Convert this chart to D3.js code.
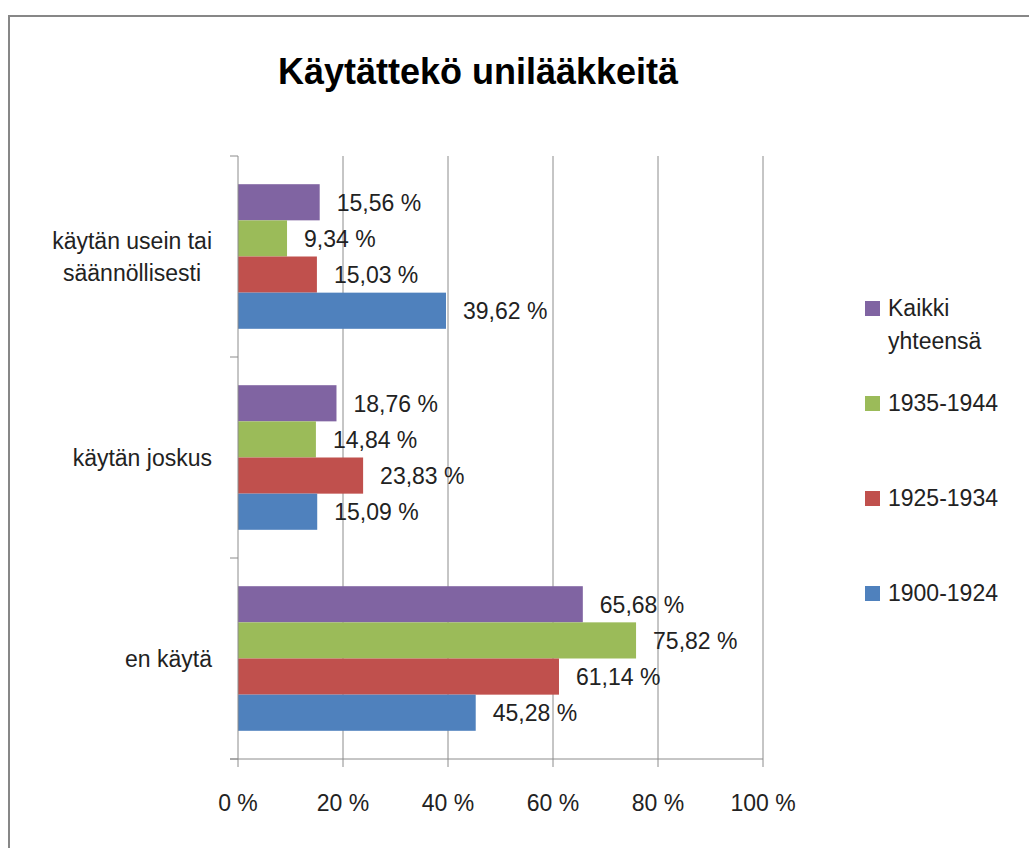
<!DOCTYPE html>
<html>
<head>
<meta charset="utf-8">
<script src="https://cdn.jsdelivr.net/npm/d3@7"></script>
<style>
  body { margin: 0; background: #fff; }
  svg text { font-family: "Liberation Sans", Arial, sans-serif; fill: #222; }
</style>
</head>
<body>
<svg id="chart" width="1029" height="848"></svg>
<script>
const categories = [
    ['käytän usein tai', 'säännöllisesti'],
    ['käytän joskus'],
    ['en käytä']
];
const seriesNames = ['Kaikki yhteensä', '1935-1944', '1925-1934', '1900-1924'];
const legendLines = [['Kaikki', 'yhteensä'], ['1935-1944'], ['1925-1934'], ['1900-1924']];
const kaikki = [15.56, 18.76, 65.68];
const s1935 = [9.34, 14.84, 75.82];
const s1925 = [15.03, 23.83, 61.14];
const s1900 = [39.62, 15.09, 45.28];
const xTicks = [0, 20, 40, 60, 80, 100];

const colors = ['#8064A2', '#9BBB59', '#C0504D', '#4F81BD'];
const series = [kaikki, s1935, s1925, s1900];

const svg = d3.select('#chart');
const fmt = v => v.toFixed(2).replace('.', ',') + ' %';

// outer frame
svg.append('rect')
    .attr('x', 9).attr('y', 16)
    .attr('width', 1100).attr('height', 1000)
    .attr('fill', 'none')
    .attr('stroke', '#878787')
    .attr('stroke-width', 2);

svg.append('text')
    .attr('x', 478).attr('y', 84)
    .attr('text-anchor', 'middle')
    .style('font-size', '36px')
    .style('font-weight', 'bold')
    .style('fill', '#000')
    .text('Käytättekö unilääkkeitä');

const plotL = 238, plotR = 763, plotT = 156, plotB = 759;

const x = d3.scaleLinear().domain([0, 100]).range([plotL, plotR]);
const y = d3.scaleBand().domain(d3.range(categories.length)).range([plotT, plotB]);
const yInner = d3.scaleBand()
    .domain(d3.range(series.length))
    .range([0, y.bandwidth()])
    .paddingOuter(0.78);

// gridlines
svg.append('g')
    .selectAll('line')
    .data(xTicks.slice(1))
    .join('line')
    .attr('x1', d => x(d)).attr('x2', d => x(d))
    .attr('y1', plotT).attr('y2', plotB + 8)
    .attr('stroke', '#8c8c8c')
    .attr('stroke-width', 1);

// bars
series.forEach((vals, si) => {
    svg.append('g')
        .selectAll('rect')
        .data(vals)
        .join('rect')
        .attr('x', plotL)
        .attr('y', (d, i) => y(i) + yInner(si))
        .attr('width', d => x(d) - plotL)
        .attr('height', yInner.bandwidth())
        .attr('fill', colors[si]);

    svg.append('g')
        .selectAll('text')
        .data(vals)
        .join('text')
        .attr('x', d => x(d) + 17)
        .attr('y', (d, i) => y(i) + yInner(si) + yInner.bandwidth() / 2)
        .attr('dy', '0.36em')
        .style('font-size', '23px')
        .text(d => fmt(d));
});

// axes lines and ticks
const axisColor = '#8c8c8c';
svg.append('line')
    .attr('x1', plotL).attr('x2', plotL)
    .attr('y1', plotT).attr('y2', plotB + 8)
    .attr('stroke', axisColor);
svg.append('line')
    .attr('x1', plotL - 8).attr('x2', plotR)
    .attr('y1', plotB).attr('y2', plotB)
    .attr('stroke', axisColor);
svg.append('g')
    .selectAll('line')
    .data(d3.range(categories.length + 1))
    .join('line')
    .attr('x1', plotL - 8).attr('x2', plotL)
    .attr('y1', d => plotT + d * y.step()).attr('y2', d => plotT + d * y.step())
    .attr('stroke', axisColor);

svg.append('g')
    .selectAll('text')
    .data(xTicks)
    .join('text')
    .attr('x', d => x(d))
    .attr('y', 811)
    .attr('text-anchor', 'middle')
    .style('font-size', '23px')
    .text(d => d + ' %');

// category labels: block right-aligned, lines centered within it
categories.forEach((lines, i) => {
    const g = svg.append('g');
    const cy = y(i) + y.bandwidth() / 2;
    const lh = 32;
    const texts = g.selectAll('text')
        .data(lines)
        .join('text')
        .attr('y', (d, j) => cy + (j - (lines.length - 1) / 2) * lh)
        .attr('dy', '0.36em')
        .attr('text-anchor', 'middle')
        .style('font-size', '23px')
        .text(d => d);
    let w = 0;
    texts.each(function () { w = Math.max(w, this.getComputedTextLength()); });
    texts.attr('x', 212 - w / 2);
});

// legend
const legendY = [308, 403, 498, 593];
legendLines.forEach((lines, i) => {
    const g = svg.append('g');
    g.append('rect')
        .attr('x', 865).attr('y', legendY[i] - 7)
        .attr('width', 15).attr('height', 15)
        .attr('fill', colors[i]);
    g.selectAll('text')
        .data(lines)
        .join('text')
        .attr('x', 888)
        .attr('y', (d, j) => legendY[i] + j * 33)
        .attr('dy', '0.36em')
        .style('font-size', '23px')
        .text(d => d);
});
</script>
</body>
</html>
